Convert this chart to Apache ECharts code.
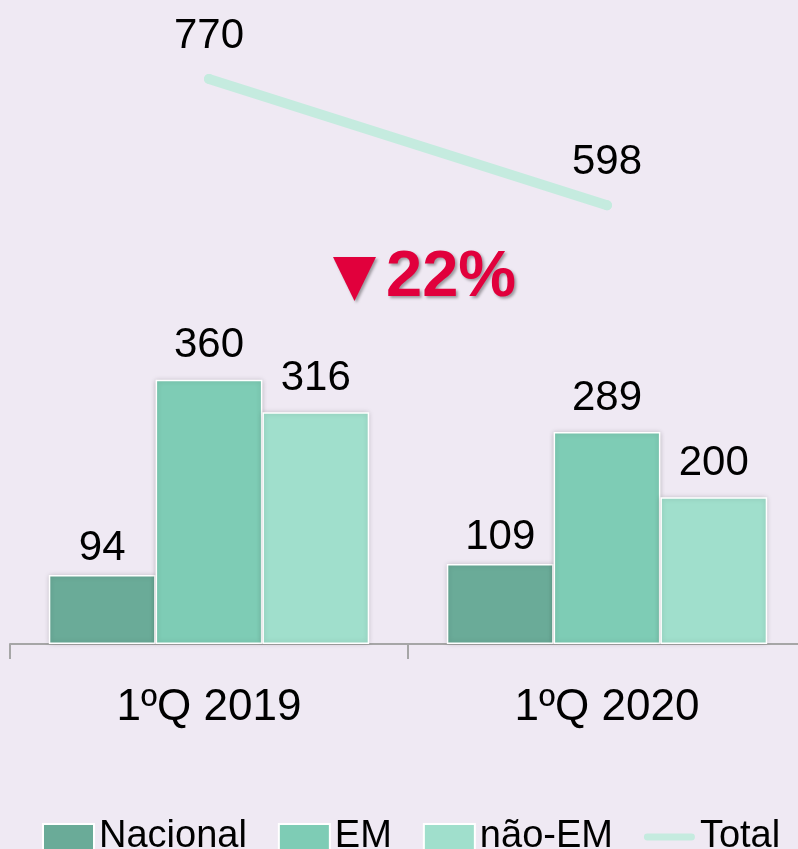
<!DOCTYPE html>
<html>
<head>
<meta charset="utf-8">
<script src="https://cdn.jsdelivr.net/npm/echarts@6/dist/echarts.min.js"></script>
<style>
  html, body { margin: 0; padding: 0; background: #EFE9F3; overflow: hidden; width: 798px; height: 849px; }
  #chart { width: 806px; height: 849px; }
</style>
</head>
<body>
<div id="chart"></div>
<script>
const categories = ['1ºQ 2019', '1ºQ 2020'];
const nacional = [94, 109];
const em = [360, 289];
const naoEm = [316, 200];
const total = [770, 598];
const changeLabel = '22%';

const FONT = '"Liberation Sans", Arial, sans-serif';
const chart = echarts.init(document.getElementById('chart'), null, { renderer: 'canvas' });

const barBase = {
  type: 'bar',
  barGap: '0%',
  barCategoryGap: '19.5%',
  label: {
    show: true, position: 'top', distance: 13,
    color: '#000', fontSize: 42, fontFamily: FONT
  }
};

chart.setOption({
  backgroundColor: '#EFE9F3',
  animation: false,
  grid: { left: 10, right: 0, top: 57, bottom: 205, containLabel: false },
  xAxis: {
    type: 'category',
    data: categories,
    axisLine: { show: true, lineStyle: { color: '#A6A6A6', width: 2 } },
    axisTick: { show: true, length: 15, lineStyle: { color: '#A6A6A6', width: 2 } },
    axisLabel: { color: '#000', fontSize: 44, fontFamily: FONT, margin: 42 }
  },
  yAxis: { type: 'value', min: 0, max: 800, show: false, splitLine: { show: false } },
  legend: {
    left: 42, top: 818, padding: 0,
    itemWidth: 51, itemHeight: 26, itemGap: 31,
    textStyle: { color: '#000', fontSize: 38, fontFamily: FONT },
    data: [
      { name: 'Nacional', icon: 'rect' },
      { name: 'EM', icon: 'rect' },
      { name: 'não-EM', icon: 'rect' },
      { name: 'Total', icon: 'path://M4,0 L56,0 A4,4 0 0 1 56,8 L4,8 A4,4 0 0 1 4,0 Z' }
    ]
  },
  series: [
    Object.assign({}, barBase, {
      name: 'Nacional', data: nacional,
      itemStyle: { color: '#6AAB98', borderColor: '#FFFFFF', borderWidth: 1.5, shadowColor: 'rgba(0,0,0,0.18)', shadowBlur: 5 },
      label: Object.assign({}, barBase.label, { distance: 6 })
    }),
    Object.assign({}, barBase, {
      name: 'EM', data: em,
      itemStyle: { color: '#7ECCB5', borderColor: '#FFFFFF', borderWidth: 1.5, shadowColor: 'rgba(0,0,0,0.18)', shadowBlur: 5 }
    }),
    Object.assign({}, barBase, {
      name: 'não-EM', data: naoEm,
      itemStyle: { color: '#A0DFCC', borderColor: '#FFFFFF', borderWidth: 1.5, shadowColor: 'rgba(0,0,0,0.18)', shadowBlur: 5 }
    }),
    {
      name: 'Total', type: 'line', data: total,
      symbol: 'circle', symbolSize: 10,
      itemStyle: { color: '#C5EBDF' },
      lineStyle: { color: '#C5EBDF', width: 10, cap: 'round' },
      label: { show: true, position: 'top', distance: 17, color: '#000', fontSize: 42, fontFamily: FONT }
    }
  ],
  graphic: [
    {
      type: 'polygon',
      shape: { points: [[333, 257], [376, 257], [354.5, 301]] },
      style: { fill: '#E1003C', shadowColor: 'rgba(0,0,0,0.35)', shadowBlur: 3, shadowOffsetX: 2, shadowOffsetY: 2 }
    },
    {
      type: 'text',
      left: 386, top: 246,
      style: {
        text: changeLabel, fill: '#E1003C',
        font: 'bold 65px "Liberation Sans", Arial, sans-serif',
        textShadowColor: 'rgba(0,0,0,0.35)', textShadowBlur: 3, textShadowOffsetX: 2, textShadowOffsetY: 2
      }
    }
  ]
});
</script>
</body>
</html>
